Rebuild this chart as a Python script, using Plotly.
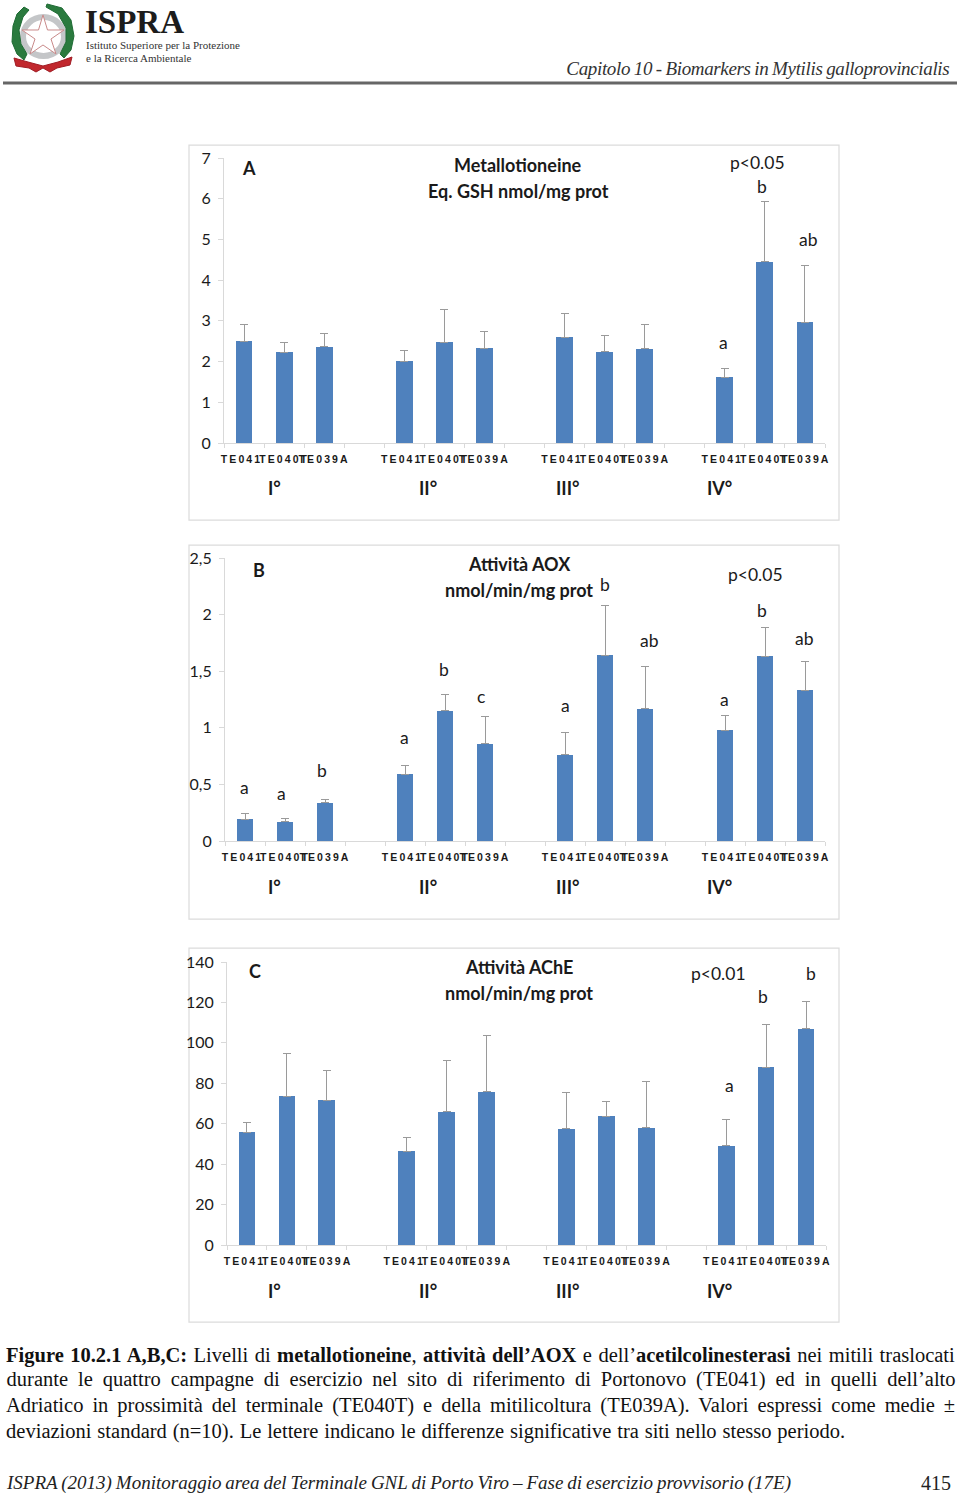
import plotly.graph_objects as go

W, H = 960, 1497
sites = ["TE041\u00a0", "TE040T", "TE039A"]
positions = [0, 1, 2, 4, 5, 6, 8, 9, 10, 12, 13, 14]
tick_labels = sites * 4
periods = ["I°", "II°", "III°", "IV°"]
blue = "#4f81bd"

a_means = [2.50, 2.23, 2.36, 2.01, 2.48, 2.33, 2.60, 2.24, 2.31, 1.62, 4.45, 2.97]
a_tops = [2.92, 2.48, 2.68, 2.26, 3.27, 2.75, 3.19, 2.63, 2.90, 1.84, 5.92, 4.37]
b_means = [0.19, 0.17, 0.34, 0.59, 1.15, 0.86, 0.76, 1.64, 1.17, 0.98, 1.63, 1.33]
b_tops = [0.24, 0.20, 0.37, 0.67, 1.29, 1.10, 0.96, 2.08, 1.54, 1.11, 1.89, 1.59]
c_means = [55.9, 73.7, 71.7, 46.5, 65.8, 75.7, 57.4, 63.8, 57.9, 49.0, 88.0, 106.9]
c_tops = [60.4, 94.5, 86.1, 53.4, 91.5, 103.4, 75.2, 70.8, 81.1, 62.3, 109.3, 120.7]

a_ticks = [0, 1, 2, 3, 4, 5, 6, 7]
a_ticktext = ["0", "1", "2", "3", "4", "5", "6", "7"]
b_ticks = [0, 0.5, 1, 1.5, 2, 2.5]
b_ticktext = ["0", "0,5", "1", "1,5", "2", "2,5"]
c_ticks = [0, 20, 40, 60, 80, 100, 120, 140]
c_ticktext = ["0", "20", "40", "60", "80", "100", "120", "140"]

panels = [
    dict(means=a_means, tops=a_tops, ticks=a_ticks, ticktext=a_ticktext, ymax=7,
         left=224, right=825, top=158, bottom=443, standoff=4, frame=(189, 145, 839, 520), period_y=488),
    dict(means=b_means, tops=b_tops, ticks=b_ticks, ticktext=b_ticktext, ymax=2.5,
         left=225, right=825, top=558, bottom=841, standoff=4, frame=(189, 545, 839, 919), period_y=887),
    dict(means=c_means, tops=c_tops, ticks=c_ticks, ticktext=c_ticktext, ymax=140,
         left=227, right=826, top=962, bottom=1245, standoff=4, frame=(189, 948, 839, 1322), period_y=1291),
]
period_x = [274, 428, 568, 719]

bold_labels = [
    ("A", 249, 168), ("Metallotioneine", 518, 165), ("Eq. GSH nmol/mg prot", 518, 191),
    ("B", 259, 570), ("Attività AOX", 519, 564), ("nmol/min/mg prot", 519, 590),
    ("C", 255, 971), ("Attività AChE", 519, 967), ("nmol/min/mg prot", 519, 993),
]
plain_labels = [
    ("p<0.05", 757, 162), ("b", 762, 186), ("ab", 808, 240), ("a", 723, 342),
    ("b", 605, 584), ("p<0.05", 755, 574), ("b", 762, 611), ("ab", 649, 640), ("ab", 804, 638),
    ("a", 724, 700), ("b", 444, 669), ("c", 481, 696), ("a", 565, 705), ("a", 404, 737),
    ("b", 322, 770), ("a", 244, 787), ("a", 281, 793),
    ("p<0.01", 718, 973), ("b", 811, 973), ("b", 763, 996), ("a", 729, 1085),
]
body_lines = [
    ("<b>Figure 10.2.1 A,B,C:</b> Livelli di <b>metallotioneine</b>, <b>attività dell’AOX</b> e dell’<b>acetilcolinesterasi</b> nei mitili traslocati", 480.5, 1355, 949),
    ("durante le quattro campagne di esercizio nel sito di riferimento di Portonovo (TE041) ed in quelli dell’alto", 480.5, 1379, 949),
    ("Adriatico in prossimità del terminale (TE040T) e della mitilicoltura (TE039A). Valori espressi come medie ±", 480.5, 1405, 949),
    ("deviazioni standard (n=10). Le lettere indicano le differenze significative tra siti nello stesso periodo.", 425.5, 1431, 839),
]
footer = "ISPRA (2013) Monitoraggio area del Terminale GNL di Porto Viro – Fase di esercizio provvisorio (17E)"
header = "Capitolo 10 - Biomarkers in Mytilis galloprovincialis"

SANS = "Lato, 'Open Sans', sans-serif"
SERIF = "'Liberation Serif', serif"


def px(x):
    return x / W


def py(y):
    return 1 - y / H


def note(text, x, y, size, family=SANS, color="#1a1a1a", xanchor="center"):
    return dict(text=text, x=px(x), y=py(y), xref="paper", yref="paper", showarrow=False,
                xanchor=xanchor, yanchor="middle", borderpad=0,
                font=dict(family=family, size=size, color=color))


def poly(points, closed=True):
    d = "M" + " L".join(f"{px(x):.5f},{py(y):.5f}" for x, y in points)
    return d + (" Z" if closed else "")


fig = go.Figure()
annotations, shapes = [], []

for i, p in enumerate(panels, start=1):
    xn, yn = f"x{i}", f"y{i}"
    fig.add_trace(go.Bar(
        x=positions, y=p["means"], width=0.42, marker=dict(color=blue, line=dict(width=0)),
        error_y=dict(type="data", symmetric=False,
                     array=[t - m for t, m in zip(p["tops"], p["means"])],
                     arrayminus=[0] * len(p["means"]),
                     color="#9a9a9a", thickness=1, width=4),
        xaxis=xn, yaxis=yn, showlegend=False, hoverinfo="skip"))
    xa = dict(domain=[px(p["left"]), px(p["right"])], range=[-0.5, 14.5], anchor=yn,
              tickmode="array", tickvals=positions, ticktext=tick_labels,
              ticks="outside", ticklen=5, tickcolor="rgba(0,0,0,0)", ticklabelstandoff=1,
              tickfont=dict(family="'Liberation Sans', Arial, sans-serif", size=10.5, color="#1a1a1a", weight="bold"),
              showline=True, linecolor="#d9d9d9", linewidth=1, showgrid=False, zeroline=False, tickangle=0,
              minor=dict(tick0=-0.5, dtick=1, ticks="outside", ticklen=4, tickcolor="#d9d9d9", showgrid=False))
    ya = dict(domain=[py(p["bottom"]), py(p["top"])], range=[0, p["ymax"]], anchor=xn,
              tickmode="array", tickvals=p["ticks"], ticktext=p["ticktext"],
              ticks="outside", ticklen=5, tickcolor="#d9d9d9", ticklabelstandoff=p["standoff"],
              tickfont=dict(family=SANS, size=16, color="#1a1a1a"),
              showline=True, linecolor="#d9d9d9", linewidth=1, showgrid=False, zeroline=False)
    fig.update_layout({f"xaxis{i}": xa, f"yaxis{i}": ya})
    x0, y0, x1, y1 = p["frame"]
    shapes.append(dict(type="rect", xref="paper", yref="paper", x0=px(x0), x1=px(x1), y0=py(y0), y1=py(y1),
                       line=dict(color="#dcdcdc", width=1.25), layer="below"))
    for lab, x in zip(periods, period_x):
        annotations.append(note(f"<b>{lab}</b>", x, p["period_y"], 18))

for t, x, y in bold_labels:
    annotations.append(note(f"<b>{t}</b>", x, y, 18))
for t, x, y in plain_labels:
    annotations.append(note(t.replace("<", "&lt;"), x, y, 17.5))
for t, x, y, _ in body_lines:
    annotations.append(note(t, x, y, 20.5, SERIF, "#111111"))

annotations.append(note(f"<i>{header}</i>", 757.5, 68, 19, SERIF, "#333333"))
annotations.append(note(f"<i>{footer}</i>", 398.5, 1483, 19, SERIF, "#222222"))
annotations.append(note("415", 936, 1483, 20, SERIF, "#222222"))

# Letterhead
annotations.append(note("<b>ISPRA</b>", 84, 22, 33, SERIF, "#1c1c1c", "left"))
annotations.append(note("Istituto Superiore per la Protezione", 85, 45, 11, SERIF, "#333333", "left"))
annotations.append(note("e la Ricerca Ambientale", 85, 58, 11, SERIF, "#333333", "left"))
shapes.append(dict(type="line", xref="paper", yref="paper", x0=px(3), x1=px(957), y0=py(83), y1=py(83),
                   line=dict(color="#666666", width=3)))

# Emblem
shapes.append(dict(type="circle", xref="paper", yref="paper", x0=px(23), x1=px(64), y0=py(17), y1=py(56),
                   line=dict(color="#c4c6c8", width=6)))
star = [(43, 15), (47.5, 30), (64, 30), (51, 39), (56, 54), (43, 45), (30, 54), (35, 39), (22, 30), (38.5, 30)]
shapes.append(dict(type="path", xref="paper", yref="paper", path=poly(star),
                   line=dict(color="#c98a8a", width=1), fillcolor="#ffffff"))
wreath_l = [(24, 7), (17, 14), (13, 26), (12, 42), (17, 54), (24, 60), (27, 54), (21, 44), (19, 30), (23, 17), (29, 10)]
wreath_r = [(47, 4), (62, 8), (71, 20), (74, 36), (71, 50), (64, 58), (60, 54), (66, 42), (66, 28), (58, 14), (46, 7)]
for w in (wreath_l, wreath_r):
    shapes.append(dict(type="path", xref="paper", yref="paper", path=poly(w),
                       line=dict(color="#1f6b34", width=1), fillcolor="#2a7a3e"))
ribbon = [(14, 58), (28, 62), (43, 66), (58, 62), (72, 57), (70, 65), (57, 68), (50, 72), (43, 68), (36, 72), (29, 68), (16, 66)]
shapes.append(dict(type="path", xref="paper", yref="paper", path=poly(ribbon),
                   line=dict(color="#a01c24", width=1), fillcolor="#c1272d"))

fig.update_layout(width=W, height=H, margin=dict(l=0, r=0, t=0, b=0, autoexpand=False), autosize=False,
                  paper_bgcolor="#ffffff", plot_bgcolor="rgba(0,0,0,0)", bargap=0,
                  annotations=annotations, shapes=shapes)

targets = {"Figure": 949, "durante": 949, "Adriatico": 949, "deviazioni": 839, "ISPRA (": 785, "Capitolo": 383}
post = """
var J = %s;
document.querySelectorAll('.annotation-text').forEach(function(t){
  var s = t.textContent;
  for (var k in J) { if (s.indexOf(k) === 0) {
    var n = s.split(' ').length - 1;
    if (k === 'Capitolo') { t.style.letterSpacing = '-0.35px'; }
    t.style.wordSpacing = ((J[k] - t.getBBox().width) / n) + 'px';
  } }
});
document.querySelectorAll('.xtick text, .x2tick text, .x3tick text').forEach(function(t){ t.style.letterSpacing = '2.1px'; });
document.body.style.margin = '0';
""" % str(targets)

fig.write_html("out.html", post_script=post, config=dict(displayModeBar=False))
